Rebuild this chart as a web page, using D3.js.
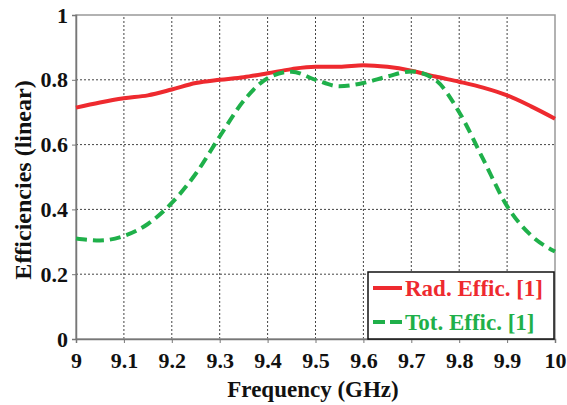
<!DOCTYPE html>
<html>
<head>
<meta charset="utf-8">
<script src="https://cdn.jsdelivr.net/npm/d3@7"></script>
<style>
  body { margin: 0; background: #fff; }
</style>
</head>
<body>
<div id="chart"></div>
<script>
var freq = [9, 9.05, 9.1, 9.15, 9.2, 9.25, 9.3, 9.35, 9.4, 9.45, 9.5, 9.55, 9.6, 9.65, 9.7, 9.75, 9.8, 9.85, 9.9, 9.95, 10];
var radEff = [0.714, 0.73, 0.743, 0.752, 0.77, 0.79, 0.8, 0.808, 0.82, 0.833, 0.84, 0.84, 0.845, 0.84, 0.828, 0.81, 0.794, 0.776, 0.752, 0.718, 0.68];
var totEff = [0.31, 0.304, 0.318, 0.355, 0.42, 0.51, 0.625, 0.735, 0.805, 0.825, 0.8, 0.78, 0.79, 0.81, 0.826, 0.8, 0.7, 0.555, 0.41, 0.32, 0.27];
var xTicks = [9, 9.1, 9.2, 9.3, 9.4, 9.5, 9.6, 9.7, 9.8, 9.9, 10];
var yTicks = [0, 0.2, 0.4, 0.6, 0.8, 1];
var seriesNames = ["Rad. Effic. [1]", "Tot. Effic. [1]"];

var FONT = "Liberation Serif";
var W = 567, H = 405;
var svg = d3.select("#chart").append("svg").attr("width", W).attr("height", H)
  .attr("font-family", FONT).attr("font-weight", "bold");

var x = d3.scaleLinear().domain([9, 10]).range([76, 555]);
var y = d3.scaleLinear().domain([0, 1]).range([339, 15]);

// grid
svg.append("g").selectAll("line").data(xTicks.slice(1, -1)).enter().append("line")
  .attr("x1", d => x(d)).attr("x2", d => x(d)).attr("y1", y(0)).attr("y2", y(1))
  .style("stroke", "#444").style("stroke-width", 1).style("stroke-dasharray", "2,2");
svg.append("g").selectAll("line").data(yTicks.slice(1, -1)).enter().append("line")
  .attr("x1", x(9)).attr("x2", x(10)).attr("y1", d => y(d)).attr("y2", d => y(d))
  .style("stroke", "#444").style("stroke-width", 1).style("stroke-dasharray", "2,2");

// frame
svg.append("rect").attr("x", x(9)).attr("y", y(1)).attr("width", x(10) - x(9)).attr("height", y(0) - y(1))
  .style("fill", "none").style("stroke", "#999").style("stroke-width", 1.5);

// axes
var xAxis = svg.append("g").attr("transform", "translate(0," + y(0) + ")")
  .call(d3.axisBottom(x).tickValues(xTicks).tickSize(4).tickFormat(d => d3.format("")(d)));
var yAxis = svg.append("g").attr("transform", "translate(" + x(9) + ",0)")
  .call(d3.axisLeft(y).tickValues(yTicks).tickSize(4).tickFormat(d => d3.format("")(d)));
[xAxis, yAxis].forEach(function (a) {
  a.attr("font-family", FONT).attr("font-size", 22);
  a.select(".domain").style("stroke", "#777").style("stroke-width", 1.5);
  a.selectAll(".tick line").style("stroke", "#777");
  a.selectAll("text").attr("font-family", FONT).attr("font-weight", "bold")
    .attr("font-size", 22).attr("fill", "#111");
});
xAxis.selectAll("text").attr("dy", "0.71em").attr("y", 13);
yAxis.selectAll("text").attr("x", -8);

// lines
var line = d3.line().x((d, i) => x(freq[i])).y(d => y(d)).curve(d3.curveMonotoneX);
svg.append("path").datum(radEff).attr("d", line)
  .style("fill", "none").style("stroke", "#ee2a2f").style("stroke-width", 4);
svg.append("path").datum(totEff).attr("d", line)
  .style("fill", "none").style("stroke", "#1fb04a").style("stroke-width", 4).style("stroke-dasharray", "11,6");

// axis titles
svg.append("text").attr("x", 313).attr("y", 397).attr("text-anchor", "middle")
  .attr("font-family", FONT).attr("font-size", 23).attr("fill", "#111").text("Frequency (GHz)");
svg.append("text").attr("transform", "translate(31,180) rotate(-90)").attr("text-anchor", "middle")
  .attr("font-family", FONT).attr("font-size", 24).attr("fill", "#111").text("Efficiencies (linear)");

// legend
var lg = svg.append("g");
lg.append("rect").attr("x", 368).attr("y", 272).attr("width", 186).attr("height", 67)
  .style("fill", "#fff").style("stroke", "#111").style("stroke-width", 1.5);
var colors = ["#ee2a2f", "#1fb04a"];
var dashes = [null, "12,5"];
seriesNames.forEach(function (n, i) {
  var yy = 288 + i * 34;
  lg.append("line").attr("x1", 373).attr("x2", 402).attr("y1", yy).attr("y2", yy)
    .style("stroke", colors[i]).style("stroke-width", 4).style("stroke-dasharray", dashes[i]);
  lg.append("text").attr("x", 405).attr("y", yy + 8)
    .attr("font-family", FONT).attr("font-size", 23)
    .attr("fill", colors[i]).text(n);
});
</script>
</body>
</html>
